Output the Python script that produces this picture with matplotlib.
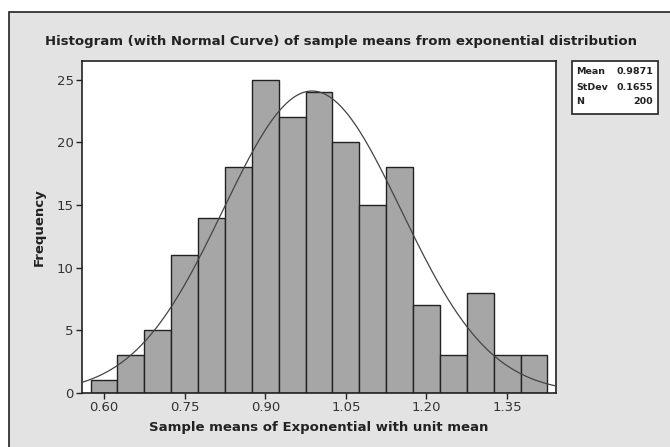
import numpy as np
import matplotlib
matplotlib.use("Agg")
import matplotlib.pyplot as plt
from matplotlib.patches import Rectangle

# histogram bins (centres) and counts
bin_centers = [0.60, 0.65, 0.70, 0.75, 0.80, 0.85, 0.90, 0.95, 1.00,
               1.05, 1.10, 1.15, 1.20, 1.25, 1.30, 1.35, 1.40]
counts = [1, 3, 5, 11, 14, 18, 25, 22, 24, 20, 15, 18, 7, 3, 8, 3, 3]
bin_width = 0.05

mean_val = 0.9871
sd_val = 0.1655
n_val = 200

x_ticks = [0.60, 0.75, 0.90, 1.05, 1.20, 1.35]
y_ticks = [0, 5, 10, 15, 20, 25]

plt.rcParams['font.family'] = ['DejaVu Sans']

fig = plt.figure(figsize=(6.7, 4.47), dpi=100)
fig.patch.set_facecolor('white')

# grey panel, only its top/left border falls inside the picture
panel = Rectangle((9 / 670, -0.1), 1.2, 1.1 - 12 / 447, transform=fig.transFigure,
                  facecolor='#e3e3e3', edgecolor='#222222', linewidth=1.2,
                  zorder=-10)
fig.patches.append(panel)

ax = fig.add_axes([82 / 670, 54 / 447, (556 - 82) / 670, (393 - 61) / 447])
ax.set_facecolor('white')

ax.bar(bin_centers, counts, width=bin_width, color='#a6a6a6',
       edgecolor='#222222', linewidth=1.0, zorder=2)

xmin, xmax = 0.559, 1.441
xs = np.linspace(xmin, xmax, 400)
pdf = np.exp(-0.5 * ((xs - mean_val) / sd_val) ** 2) / (sd_val * np.sqrt(2 * np.pi))
ax.plot(xs, n_val * bin_width * pdf, color='#444444', linewidth=0.9, zorder=3)

ax.set_xlim(xmin, xmax)
ax.set_ylim(0, 26.5)
ax.set_xticks(x_ticks)
ax.set_xticklabels([f"{v:.2f}" for v in x_ticks])
ax.set_yticks(y_ticks)

for s in ax.spines.values():
    s.set_color('#222222')
    s.set_linewidth(1.2)

ax.tick_params(direction='out', length=4, width=1, colors='#222222',
               labelsize=9.5, labelcolor='#333333', pad=2)

ax.set_xlabel('Sample means of Exponential with unit mean', fontsize=9.5,
              fontweight='bold', color='#222222', labelpad=5)
ax.set_ylabel('Frequency', fontsize=9.5, fontweight='bold', color='#222222',
              labelpad=8)

fig.text(341 / 670, 1 - 42 / 447,
         'Histogram (with Normal Curve) of sample means from exponential distribution',
         ha='center', va='center', fontsize=9.5, fontweight='bold', color='#222222')

# statistics box
box = Rectangle((572 / 670, 1 - 114 / 447), 86 / 670, 53 / 447,
                transform=fig.transFigure, facecolor='white',
                edgecolor='#222222', linewidth=1.2)
fig.patches.append(box)
stats = [('Mean', f"{mean_val:.4f}"), ('StDev', f"{sd_val:.4f}"), ('N', f"{n_val}")]
for i, (lab, val) in enumerate(stats):
    yy = 1 - (72 + 15 * i) / 447
    fig.text(576 / 670, yy, lab, ha='left', va='center', fontsize=6.8,
             fontweight='bold', color='#222222')
    fig.text(653 / 670, yy, val, ha='right', va='center', fontsize=6.8,
             fontweight='bold', color='#222222')

fig.savefig('out.png', dpi=100)
